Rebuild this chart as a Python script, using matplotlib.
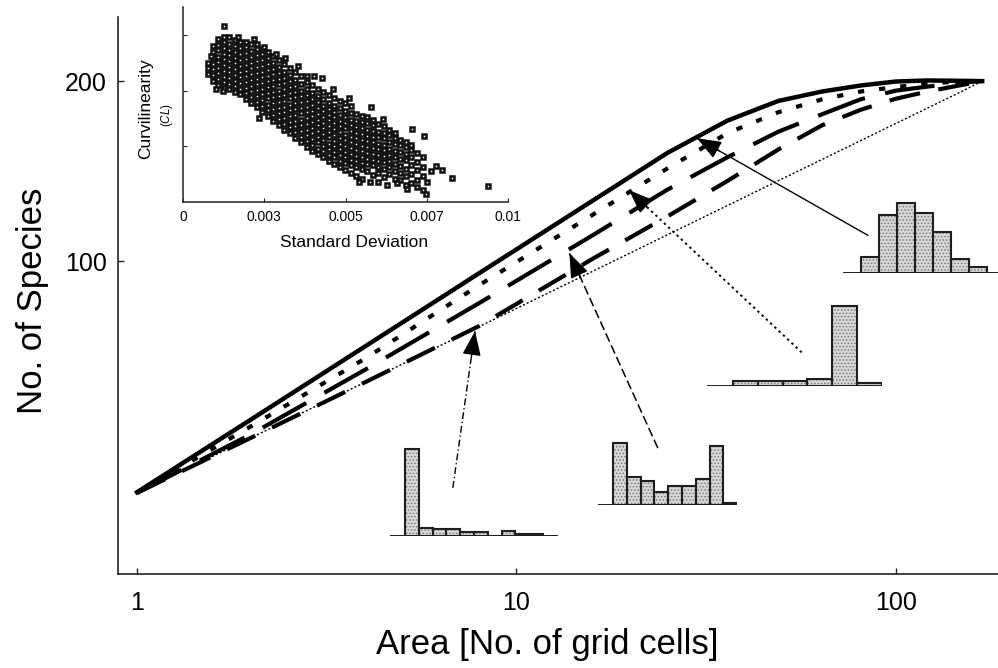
import matplotlib
matplotlib.use('Agg')
import matplotlib.pyplot as plt
import numpy as np

plt.rcParams['font.family'] = ['Liberation Sans', 'DejaVu Sans']
plt.rcParams['mathtext.fontset'] = 'custom'
plt.rcParams['mathtext.it'] = 'Liberation Sans:italic'
plt.rcParams['mathtext.rm'] = 'Liberation Sans'
plt.rcParams['hatch.linewidth'] = 0.7

# species-area curves
area = [1, 2, 4, 8, 16, 25, 36, 49, 64, 81, 100, 121, 144, 169]
sp_normal = [41.1, 54.4, 72.1, 95.6, 126.6, 151.7, 171.8, 185.3, 192.2, 196.7, 199.7, 200.5, 200.3, 200.0]
sp_skew_r = [41.0, 53.0, 68.8, 91.3, 119.9, 142.9, 163.7, 177.4, 186.5, 192.2, 195.5, 198.0, 199.6, 200.0]
sp_ushape = [41.0, 51.4, 65.9, 85.2, 110.8, 131.7, 149.2, 164.6, 176.1, 186.6, 192.8, 195.8, 198.5, 200.0]
sp_skew_l = [41.0, 50.7, 62.8, 78.0, 101.2, 118.8, 136.2, 153.7, 168.8, 179.2, 186.9, 192.1, 196.2, 200.0]
sp_random = [41.0, 50.7, 62.8, 77.8, 96.4, 110.7, 123.9, 136.3, 148.0, 159.2, 169.9, 180.2, 190.1, 200.0]

# small histograms of abundance
hist_normal = [16, 58, 70, 60, 41, 14, 6]
hist_skew_r = [5, 5, 5, 7, 80, 3]
hist_ushape = [62, 28, 24, 13, 19, 19, 26, 59, 2]
hist_skew_l = [87, 8, 7, 7, 4, 4, 0, 5, 2, 2]

# arrows: tail (area, species) -> tip (area, species)
arr_normal = ((84.4, 110.5), (29.9, 160.6))
arr_skew_r = ((56.5, 70.4), (19.8, 131.5))
arr_ushape = ((23.6, 48.7), (13.8, 103.1))
arr_skew_l = ((6.80, 41.8), (7.78, 76.4))

# inset: SD (x1000) column -> curvilinearity values
cloud_cols = [
    (0.78, [2.30, 2.40, 2.50]),
    (0.92, [2.18, 2.28, 2.38, 2.48, 2.58, 2.70, 2.80]),
    (1.08, [2.10, 2.20, 2.31, 2.41, 2.51, 2.61, 2.72, 2.82, 2.93]),
    (1.25, [2.05, 2.15, 2.25, 2.36, 2.46, 2.56, 2.66, 2.77, 2.87, 2.97]),
    (1.42, [2.02, 2.12, 2.22, 2.33, 2.43, 2.53, 2.63, 2.73, 2.84, 2.96]),
    (1.59, [1.98, 2.08, 2.18, 2.28, 2.39, 2.49, 2.59, 2.70, 2.80, 2.91]),
    (1.76, [1.93, 2.03, 2.14, 2.24, 2.34, 2.45, 2.55, 2.65, 2.76, 2.88]),
    (1.93, [1.84, 1.95, 2.05, 2.15, 2.26, 2.36, 2.46, 2.57, 2.67, 2.78, 2.87]),
    (2.10, [1.78, 1.88, 1.99, 2.09, 2.19, 2.30, 2.40, 2.50, 2.61, 2.71, 2.83]),
    (2.27, [1.70, 1.80, 1.90, 2.01, 2.11, 2.21, 2.32, 2.42, 2.53, 2.63, 2.74, 2.84]),
    (2.44, [1.62, 1.72, 1.83, 1.93, 2.03, 2.14, 2.24, 2.34, 2.45, 2.55, 2.66, 2.75]),
    (2.61, [1.55, 1.65, 1.75, 1.86, 1.96, 2.06, 2.17, 2.27, 2.37, 2.48, 2.58, 2.69]),
    (2.78, [1.46, 1.57, 1.67, 1.77, 1.88, 1.98, 2.08, 2.19, 2.29, 2.39, 2.50, 2.62]),
    (2.95, [1.38, 1.49, 1.59, 1.69, 1.80, 1.90, 2.00, 2.11, 2.21, 2.31, 2.42, 2.55]),
    (3.12, [1.30, 1.40, 1.51, 1.61, 1.71, 1.82, 1.92, 2.02, 2.13, 2.23, 2.34, 2.47]),
    (3.29, [1.24, 1.34, 1.44, 1.55, 1.65, 1.75, 1.86, 1.96, 2.06, 2.17, 2.28, 2.40]),
    (3.46, [1.15, 1.26, 1.36, 1.46, 1.57, 1.67, 1.77, 1.88, 1.98, 2.08, 2.19, 2.34]),
    (3.63, [1.07, 1.17, 1.28, 1.38, 1.48, 1.59, 1.69, 1.79, 1.90, 2.00, 2.11, 2.27]),
    (3.80, [0.99, 1.09, 1.20, 1.30, 1.40, 1.51, 1.61, 1.71, 1.82, 1.92, 2.03, 2.16, 2.27]),
    (3.97, [0.92, 1.02, 1.13, 1.23, 1.33, 1.44, 1.54, 1.64, 1.75, 1.85, 1.96, 2.10]),
    (4.14, [0.86, 0.96, 1.07, 1.17, 1.27, 1.38, 1.48, 1.58, 1.69, 1.79, 1.90, 2.03]),
    (4.31, [0.80, 0.91, 1.01, 1.11, 1.22, 1.32, 1.42, 1.53, 1.63, 1.73, 1.84, 1.97]),
    (4.48, [0.74, 0.85, 0.95, 1.05, 1.16, 1.26, 1.36, 1.47, 1.57, 1.67, 1.78, 1.92]),
    (4.65, [0.68, 0.80, 0.90, 1.00, 1.10, 1.21, 1.31, 1.41, 1.52, 1.62, 1.73, 1.87]),
    (4.82, [0.62, 0.74, 0.84, 0.95, 1.05, 1.15, 1.26, 1.36, 1.46, 1.57, 1.68, 1.82]),
    (4.99, [0.57, 0.70, 0.80, 0.90, 1.01, 1.11, 1.21, 1.32, 1.42, 1.52, 1.63, 1.78]),
    (5.16, [0.52, 0.66, 0.76, 0.86, 0.97, 1.07, 1.17, 1.28, 1.38, 1.48, 1.59, 1.72]),
    (5.33, [0.47, 0.62, 0.73, 0.83, 0.93, 1.04, 1.14, 1.24, 1.35, 1.46, 1.58]),
    (5.50, [0.41, 0.60, 0.70, 0.80, 0.91, 1.01, 1.11, 1.22, 1.32, 1.44, 1.55]),
    (5.67, [0.55, 0.68, 0.78, 0.88, 0.99, 1.09, 1.19, 1.30, 1.41, 1.52]),
    (5.84, [0.48, 0.66, 0.76, 0.86, 0.97, 1.07, 1.17, 1.27, 1.38, 1.47]),
    (6.01, [0.52, 0.63, 0.74, 0.84, 0.95, 1.05, 1.16, 1.26, 1.40]),
    (6.18, [0.45, 0.60, 0.72, 0.82, 0.93, 1.03, 1.14, 1.24, 1.36]),
    (6.35, [0.50, 0.62, 0.73, 0.84, 0.96, 1.08, 1.20, 1.30]),
    (6.52, [0.42, 0.56, 0.68, 0.80, 0.92, 1.04, 1.15, 1.24]),
    (6.69, [0.40, 0.52, 0.64, 0.78, 0.90, 1.02, 1.12]),
    (6.86, [0.30, 0.46, 0.60, 0.75, 0.86, 0.98, 1.08]),
    (7.03, [0.35, 0.50, 0.66, 0.80, 0.93, 1.02]),
    (7.20, [0.40, 0.58, 0.72, 0.88]),
    (7.37, [0.22, 0.46, 0.62, 0.80]),
]
stray_sd = [1.26, 2.18, 2.50, 3.14, 4.03, 4.28, 1.23, 2.35, 5.78, 6.15, 7.05, 7.42,
            7.80, 7.97, 7.48, 6.90, 5.75, 6.00, 6.58, 7.20, 7.50, 9.38, 8.28, 7.62,
            5.42, 6.28, 0.85, 1.00, 1.70, 2.85, 3.55, 4.60, 5.10]
stray_cl = [3.16, 2.92, 2.78, 2.58, 2.27, 2.22, 2.00, 1.50, 1.71, 1.49, 1.31, 1.18,
            0.65, 0.57, 0.14, 0.23, 0.36, 0.36, 0.34, 0.27, 0.36, 0.29, 0.43, 0.55,
            0.36, 0.30, 2.62, 2.02, 2.96, 2.66, 2.45, 2.02, 1.86]
sd_ticks = [0, 0.0025, 0.005, 0.0075, 0.01]
sd_labels = ['0', '0.003', '0.005', '0.007', '0.01']

W, H = 998, 668
fig = plt.figure(figsize=(W / 100, H / 100), dpi=100)


def px_axes(l, t, r, b):
    return fig.add_axes([l / W, 1 - b / H, (r - l) / W, (b - t) / H])


ax = px_axes(118, 17, 998, 574)
ax.set_xscale('log')
ax.set_yscale('log')

ax.plot(area, sp_normal, color='black', lw=3.2, solid_joinstyle='miter')
ax.plot(area, sp_skew_r, color='black', lw=3.0, ls=(0, (1.5, 3.6)))
ax.plot(area, sp_ushape, color='black', lw=3.0, ls=(0, (12, 5)))
ax.plot(area, sp_skew_l, color='black', lw=3.0, ls=(0, (7.5, 4.5)))
ax.plot(area, sp_random, color='black', lw=1.0, ls=(0, (1.5, 1.5)))

ax.set_xlim(0.891, 186)
ax.set_ylim(30, 256)
ax.set_xticks([1, 10, 100])
ax.set_xticklabels(['1', '10', '100'])
ax.set_yticks([100, 200])
ax.set_yticklabels(['100', '200'])
ax.xaxis.set_minor_locator(plt.NullLocator())
ax.yaxis.set_minor_locator(plt.NullLocator())
ax.tick_params(direction='in', length=4, width=1, labelsize=18, color='#222222')
ax.tick_params(axis='x', pad=12)
ax.tick_params(axis='y', pad=8)
for s in ['top', 'right']:
    ax.spines[s].set_visible(False)
for s in ['left', 'bottom']:
    ax.spines[s].set_linewidth(1.2)
    ax.spines[s].set_color('#222222')
ax.set_xlabel('Area [No. of grid cells]', fontsize=25)
ax.set_ylabel('No. of Species', fontsize=25)
ax.xaxis.set_label_coords(0.4875, -0.097)
ax.yaxis.set_label_coords(-0.078, 0.49)

# arrows from histograms to curves
arrow_styles = [
    (arr_normal, '-', 1.0),
    (arr_skew_r, (0, (1.2, 1.8)), 1.4),
    (arr_ushape, (0, (6, 2.5)), 1.1),
    (arr_skew_l, (0, (5, 2, 1, 2)), 1.0),
]
fig.canvas.draw()
for (tail, tip), ls, lw in arrow_styles:
    ax.plot([tail[0], tip[0]], [tail[1], tip[1]], color='black', lw=lw, ls=ls)
    p_tip = ax.transData.transform(tip)
    p_tail = ax.transData.transform(tail)
    d = (p_tail - p_tip) / np.hypot(*(p_tail - p_tip))
    ax.annotate('', xy=tip, xytext=tuple(d * 26), textcoords='offset pixels',
                arrowprops=dict(arrowstyle='-|>,head_length=1.05,head_width=0.4',
                                color='black', lw=1.0, shrinkA=0, shrinkB=0,
                                mutation_scale=14.5))


def hist_inset(heights, x0, x1, base, start, bw):
    top = max(heights) + 3
    hx = fig.add_axes([x0 / W, 1 - base / H, (x1 - x0) / W, top / H])
    hx.set_facecolor('none')
    pos = np.arange(len(heights))
    hx.bar(pos, heights, width=1, align='edge', color='#d8d8d8',
           edgecolor='#7a7a7a', hatch='.....', linewidth=0)
    hx.bar(pos, heights, width=1, align='edge', fill=False,
           edgecolor='#1e1e1e', linewidth=1.5)
    hx.axhline(0, color='#1e1e1e', lw=1.4)
    hx.set_xlim((x0 - start) / bw, (x1 - start) / bw)
    hx.set_ylim(0, top)
    hx.axis('off')


hist_inset(hist_normal, 843, 998, 273, 861, 18)
hist_inset(hist_skew_r, 707, 882, 386, 733, 24.8)
hist_inset(hist_ushape, 598, 737, 505, 613, 13.8)
hist_inset(hist_skew_l, 390, 558, 536, 405, 13.8)

# inset scatter
sd = [c for c, ys in cloud_cols for _ in ys] + stray_sd
cl = [y for c, ys in cloud_cols for y in ys] + stray_cl
ins = px_axes(183, 7, 508, 202)
ins.set_facecolor('none')
ins.plot(np.array(sd) / 1000, cl, 's', ms=2.8, mfc='white', mec='#111111', mew=1.8)
ins.set_xlim(0, 0.01)
ins.set_ylim(0, 3.5)
ins.set_xticks(sd_ticks)
ins.set_xticklabels(sd_labels)
ins.set_yticks([1, 2, 3])
ins.set_yticklabels([])
ins.tick_params(direction='in', length=3, width=0.8, labelsize=10, pad=6, color='#222222')
for s in ['top', 'right']:
    ins.spines[s].set_visible(False)
for s in ['left', 'bottom']:
    ins.spines[s].set_linewidth(1.1)
    ins.spines[s].set_color('#222222')
ins.set_xlabel('Standard Deviation', fontsize=12.5)
ins.xaxis.set_label_coords(0.526, -0.17)
ins.text(-0.114, 0.477, 'Curvilinearity', rotation=90, fontsize=12.5,
         ha='center', va='center', transform=ins.transAxes)
ins.text(-0.049, 0.446, r'($\mathit{CL}$)', rotation=90, fontsize=8.5,
         ha='center', va='center', transform=ins.transAxes)

fig.savefig('out.png', dpi=100)
